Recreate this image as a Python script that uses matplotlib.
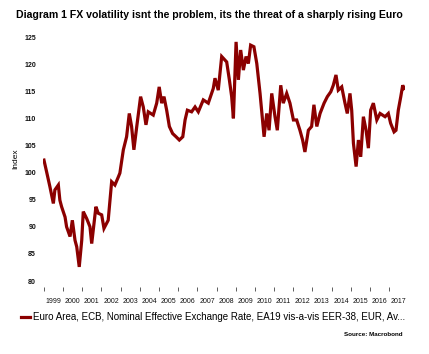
import numpy as np
import matplotlib.pyplot as plt
from matplotlib.ticker import FixedLocator, NullFormatter, FixedFormatter

plt.rcParams['font.family'] = ['Liberation Sans', 'DejaVu Sans']

# Euro NEER (EER-38), index
years = [1999.00, 1999.14, 1999.31, 1999.49, 1999.57, 1999.75, 1999.83, 1999.92,
         2000.10, 2000.18, 2000.36, 2000.48, 2000.62, 2000.71, 2000.84, 2000.97,
         2001.05, 2001.23, 2001.40, 2001.49, 2001.71, 2001.83, 2002.01, 2002.13,
         2002.35, 2002.53, 2002.70, 2002.88, 2002.96, 2003.14, 2003.31, 2003.45,
         2003.57, 2003.69, 2003.84, 2004.04, 2004.18, 2004.32, 2004.44, 2004.70,
         2004.88, 2005.01, 2005.14, 2005.26, 2005.40, 2005.54, 2005.71, 2005.89,
         2006.06, 2006.24, 2006.36, 2006.48, 2006.70, 2006.88, 2007.05, 2007.31,
         2007.57, 2007.83, 2007.92, 2008.09, 2008.27, 2008.53, 2008.67, 2008.79,
         2008.88, 2009.02, 2009.14, 2009.26, 2009.40, 2009.54, 2009.66, 2009.78,
         2009.95, 2010.10, 2010.27, 2010.48, 2010.62, 2010.74, 2010.88, 2011.05,
         2011.17, 2011.35, 2011.48, 2011.66, 2011.83, 2012.01, 2012.18, 2012.35,
         2012.49, 2012.61, 2012.79, 2012.96, 2013.08, 2013.23, 2013.40, 2013.61,
         2013.78, 2013.96, 2014.09, 2014.23, 2014.35, 2014.53, 2014.70, 2014.82,
         2014.96, 2015.05, 2015.14, 2015.28, 2015.40, 2015.52, 2015.66, 2015.80,
         2015.92, 2016.04, 2016.18, 2016.36, 2016.53, 2016.79, 2016.96, 2017.08,
         2017.26, 2017.36, 2017.48, 2017.61, 2017.71, 2017.78]
neer = [102.3, 100.1, 97.4, 94.3, 96.8, 97.7, 94.9, 93.7,
        91.8, 90.0, 88.2, 91.2, 87.5, 86.3, 82.6, 87.5,
        92.8, 91.5, 90.0, 86.9, 93.7, 92.5, 92.2, 89.7,
        91.2, 98.3, 97.7, 99.2, 99.9, 104.2, 106.6, 110.9,
        108.5, 104.2, 108.5, 114.0, 112.1, 108.8, 111.2, 110.6,
        112.8, 115.8, 112.8, 114.0, 111.5, 108.5, 107.2, 106.6,
        106.0, 106.6, 109.7, 111.5, 111.2, 112.1, 111.2, 113.4,
        112.8, 115.5, 117.4, 115.2, 121.4, 120.4, 117.1, 114.0,
        110.0, 124.1, 117.1, 122.6, 118.9, 121.4, 120.1, 123.5,
        123.2, 120.1, 114.6, 106.6, 110.9, 107.8, 114.6, 110.3,
        107.8, 116.1, 112.8, 114.6, 112.8, 109.7, 109.7, 107.8,
        106.0, 103.8, 107.8, 108.5, 112.5, 108.5, 110.9, 112.8,
        114.0, 114.9, 116.1, 118.0, 115.2, 115.8, 112.8, 110.9,
        114.6, 111.5, 105.4, 101.1, 106.0, 102.9, 110.3, 107.8,
        104.5, 111.5, 112.8, 109.7, 110.9, 110.3, 110.9, 109.1,
        107.5, 107.8, 111.5, 114.0, 116.1, 115.5]

year_ticks = list(range(1999, 2018))
year_labels = [str(y) for y in year_ticks]
y_ticks = [80, 85, 90, 95, 100, 105, 110, 115, 120, 125]

W, H = 429, 354
fig = plt.figure(figsize=(W / 100, H / 100), dpi=100)
ax = fig.add_axes([43 / W, 1 - 281 / H, (405 - 43) / W, (281 - 37) / H])

line, = ax.plot(years, neer, color='#8b0000', lw=2.3, solid_joinstyle='miter')

ax.set_xlim(1998.95, 2017.83)
ax.set_ylim(80, 125)
ax.set_yticks(y_ticks)
ax.tick_params(axis='y', length=0, pad=5, labelsize=5, labelcolor='#111111')

# ticks at year starts, labels in the middle of each year
ax.xaxis.set_major_locator(FixedLocator(year_ticks))
ax.xaxis.set_major_formatter(NullFormatter())
ax.xaxis.set_minor_locator(FixedLocator([y + 0.5 for y in year_ticks]))
ax.xaxis.set_minor_formatter(FixedFormatter(year_labels))
ax.tick_params(axis='x', which='major', length=3, width=0.6, color='#444444')
ax.tick_params(axis='x', which='minor', length=0, pad=8, labelsize=5, labelcolor='#111111')
for lbl in ax.get_xticklabels(minor=True) + ax.get_yticklabels():
    lbl.set_fontweight('bold')

for s in ax.spines.values():
    s.set_visible(False)
ax.spines['bottom'].set_position(('outward', 4))

ax.set_ylabel('Index', fontsize=6, labelpad=4)

fig.text(16 / W, 1 - 15 / H,
         'Diagram 1 FX volatility isnt the problem, its the threat of a sharply rising Euro',
         fontsize=7.55, fontweight='bold', ha='left', va='center')

fig.legend([line], ['Euro Area, ECB, Nominal Effective Exchange Rate, EA19 vis-a-vis EER-38, EUR, Av...'],
           loc='center left', bbox_to_anchor=(21 / W, 1 - 317 / H), frameon=False,
           fontsize=7.0, handlelength=0.95, handletextpad=0.25, borderpad=0, borderaxespad=0)

fig.text(403 / W, 1 - 334 / H, 'Source: Macrobond', fontsize=4.5, fontweight='bold',
         ha='right', va='center')

fig.savefig('out.png', dpi=100)
